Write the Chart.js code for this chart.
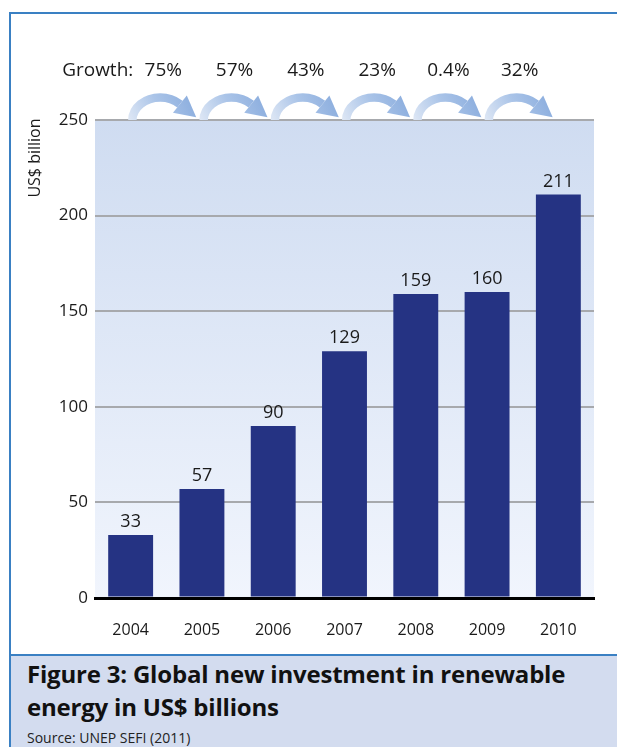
<!DOCTYPE html>
<html>
<head>
<meta charset="utf-8">
<script src="https://cdn.jsdelivr.net/npm/chart.js@4.4.1/dist/chart.umd.min.js"></script>
<style>
  body { margin: 0; background: #fff; }
  #page { position: relative; width: 617px; height: 747px; overflow: hidden; font-family: "Open Sans", sans-serif; }
  #frame { position: absolute; left: 9px; top: 12px; right: -5px; bottom: -5px;
           border-left: 2px solid #3a80c3; border-top: 2px solid #3a80c3; }
  #chart { position: absolute; left: 0; top: 0; }
  #caption { position: absolute; left: 11px; top: 654px; right: 0; bottom: 0;
             background: #d3dcef; border-top: 2px solid #3a80c3; }
  #title { position: absolute; left: 27px; top: 657px; margin: 0; white-space: nowrap;
           font: bold 24px/33px "Open Sans", sans-serif; letter-spacing: -0.2px; color: #111; }
  #source { position: absolute; left: 27px; top: 730px; margin: 0; white-space: nowrap;
            font: 14px/16px "Open Sans", sans-serif; color: #222; }
</style>
</head>
<body>
<div id="page">
  <div id="frame"></div>
  <canvas id="chart" width="617" height="654"></canvas>
  <div id="caption"></div>
  <h2 id="title">Figure 3: Global new investment in renewable<br>energy in US$ billions</h2>
  <p id="source">Source: UNEP SEFI (2011)</p>
</div>
<script>
const years = ["2004", "2005", "2006", "2007", "2008", "2009", "2010"];
const investment = [33, 57, 90, 129, 159, 160, 211];
const growth = ["75%", "57%", "43%", "23%", "0.4%", "32%"];
const yMin = 0, yMax = 250, yStep = 50;

const textColor = "#1a1a1a";
const fontFamily = "'Open Sans', sans-serif";

// light blue fade behind the bars
const plotBackground = {
  id: "plotBackground",
  beforeDraw(chart) {
    const { ctx, chartArea: a } = chart;
    const g = ctx.createLinearGradient(0, a.top, 0, a.bottom);
    g.addColorStop(0, "#cfdcf1");
    g.addColorStop(1, "#f1f5fd");
    ctx.save();
    ctx.fillStyle = g;
    ctx.fillRect(a.left, a.top, a.right - a.left, a.bottom - a.top);
    ctx.restore();
  }
};

// numbers above each bar
const barValues = {
  id: "barValues",
  afterDatasetsDraw(chart) {
    const ctx = chart.ctx;
    const meta = chart.getDatasetMeta(0);
    ctx.save();
    ctx.font = "18px " + fontFamily;
    ctx.fillStyle = textColor;
    ctx.textAlign = "center";
    ctx.textBaseline = "alphabetic";
    meta.data.forEach((bar, i) => {
      ctx.fillText(String(investment[i]), bar.x, bar.y - 8);
    });
    ctx.restore();
  }
};

function drawArrow(ctx, x0, x1, base) {
  const sp = x1 - x0;
  const cx = x0 + sp * 0.415, rx = sp * 0.39, ry = 22.5;
  const tEnd = Math.PI * 1.75;
  const g = ctx.createLinearGradient(x0, base, x0 + sp * 0.8, base - 25);
  g.addColorStop(0, "#dbe5f4");
  g.addColorStop(0.5, "#aac4e8");
  g.addColorStop(1, "#8fb0df");
  ctx.strokeStyle = g;
  ctx.fillStyle = g;
  ctx.lineWidth = 8.5;
  ctx.beginPath();
  ctx.ellipse(cx, base, rx, ry, 0, Math.PI, tEnd);
  ctx.stroke();
  const ex = cx + rx * Math.cos(tEnd), ey = base + ry * Math.sin(tEnd);
  let dx = -rx * Math.sin(tEnd), dy = ry * Math.cos(tEnd);
  const len = Math.hypot(dx, dy);
  dx /= len; dy /= len;
  const nx = -dy, ny = dx;
  const head = 21, half = 11;
  ctx.beginPath();
  ctx.moveTo(ex + nx * half, ey + ny * half);
  ctx.lineTo(ex + dx * head, ey + dy * head);
  ctx.lineTo(ex - nx * half, ey - ny * half);
  ctx.closePath();
  ctx.fill();
}

// growth row, curved arrows and the y title
const growthRow = {
  id: "growthRow",
  afterDraw(chart) {
    const { ctx, chartArea: a } = chart;
    const xs = chart.scales.x;
    ctx.save();
    for (let i = 0; i < growth.length; i++) {
      drawArrow(ctx, xs.getPixelForValue(i), xs.getPixelForValue(i + 1), a.top);
    }
    ctx.font = "19px " + fontFamily;
    ctx.fillStyle = textColor;
    ctx.textBaseline = "middle";
    ctx.textAlign = "center";
    let firstMid = 0;
    growth.forEach((g, i) => {
      const mid = (xs.getPixelForValue(i) + xs.getPixelForValue(i + 1)) / 2 - 3;
      if (i === 0) firstMid = mid;
      ctx.fillText(g, mid, 71);
    });
    ctx.textAlign = "right";
    ctx.fillText("Growth:", firstMid - 30, 71);

    ctx.translate(35, 158);
    ctx.rotate(-Math.PI / 2);
    ctx.textAlign = "center";
    ctx.font = "16px " + fontFamily;
    ctx.fillText("US$ billion", 0, 0);
    ctx.restore();
  }
};

new Chart(document.getElementById("chart"), {
  type: "bar",
  data: {
    labels: years,
    datasets: [{
      data: investment,
      backgroundColor: "#253383",
      categoryPercentage: 1,
      barPercentage: 0.63
    }]
  },
  options: {
    responsive: false,
    animation: false,
    layout: { padding: { top: 120, left: 55, right: 23, bottom: 6 } },
    plugins: { legend: { display: false }, tooltip: { enabled: false } },
    scales: {
      x: {
        grid: { display: false, drawTicks: false },
        border: { display: true, color: "#000", width: 3 },
        ticks: { color: textColor, font: { family: "Open Sans", size: 16 }, padding: 23 },
        afterFit(scale) { scale.height = 50; }
      },
      y: {
        min: yMin, max: yMax,
        grid: {
          drawTicks: false,
          color: c => c.tick.value === 0 ? "#000" : "#a7a9ad",
          lineWidth: c => c.tick.value === 0 ? 3 : 2
        },
        border: { display: false },
        ticks: { stepSize: yStep, color: textColor, font: { family: "Open Sans", size: 17 }, padding: 7 },
        afterFit(scale) { scale.width = 40; }
      }
    }
  },
  plugins: [plotBackground, barValues, growthRow]
});
</script>
</body>
</html>
